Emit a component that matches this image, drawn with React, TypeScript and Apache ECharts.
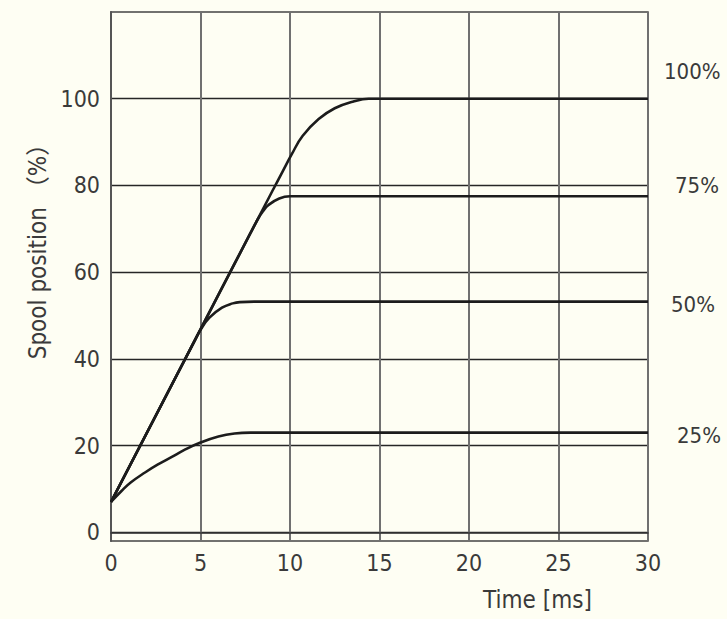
import React, { useEffect, useRef } from "react";
import * as echarts from "echarts";

const xTicks = [0, 5, 10, 15, 20, 25, 30];
const yTickValues = [0, 20, 40, 60, 80, 100];

const seriesNames = ["100%", "75%", "50%", "25%"];

const curve100: [number, number][] = [
  [0, 7], [9, 78.6], [9.6, 83.3], [10.1, 87.2], [10.7, 91.4], [11.6, 95.3], [12.5, 97.8], [13.5, 99.3], [14.4, 100], [30, 100],
];
const curve75: [number, number][] = [
  [0, 7], [7.8, 69.1], [8.2, 72.2], [8.5, 74.1], [8.8, 75.5], [9.4, 77.0], [10, 77.5], [10.4, 77.5], [30, 77.5],
];
const curve50: [number, number][] = [
  [0, 7], [4.7, 44.4], [5, 46.7], [5.5, 49.5], [6.2, 51.8], [6.8, 52.8], [7.2, 53.1], [8, 53.2], [30, 53.2],
];
const curve25: [number, number][] = [
  [0, 7], [0.6, 9.6], [1.1, 11.5], [1.9, 13.8], [2.6, 15.6], [3.4, 17.4], [4.1, 19.0], [5, 20.7], [6, 22.1], [6.9, 22.8], [7.8, 23.0], [30, 23.0],
];

const curves = [curve100, curve75, curve50, curve25];
const labelOffsets: [number, number][] = [[16, -27], [27, -11], [23, 3], [29, 3]];

const NARROW = "'DejaVu Sans Condensed', 'Liberation Sans Narrow', sans-serif";
const TEXT = "#3a3a3a";
const BG = "#fefef3";

export default function App() {
  const ref = useRef<HTMLDivElement>(null);
  useEffect(() => {
    document.body.style.margin = "0";
    document.body.style.background = BG;
    const chart = echarts.init(ref.current!, null, { renderer: "svg" });
    chart.setOption({
      animation: false,
      backgroundColor: BG,
      grid: {
        left: 111,
        right: 79,
        top: 12,
        bottom: 78,
        show: true,
        borderColor: "#444",
        borderWidth: 1.5,
      },
      xAxis: {
        type: "value",
        min: 0,
        max: 30,
        interval: 5,
        name: "Time [ms]",
        nameLocation: "middle",
        nameGap: 47,
        nameTextStyle: {
          fontFamily: NARROW,
          fontSize: 24,
          color: TEXT,
          padding: [0, 0, 0, 316],
        },
        axisLine: { show: true, lineStyle: { color: "#333", width: 1.5 } },
        axisTick: { show: false },
        axisLabel: {
          fontFamily: NARROW,
          fontSize: 23,
          color: TEXT,
          margin: 10,
          formatter: (v: number) => (xTicks.includes(v) ? String(v) : ""),
        },
        splitLine: { show: true, lineStyle: { color: "#707070", width: 2 } },
      },
      yAxis: {
        type: "value",
        min: -2,
        max: 120,
        name: "Spool position （%）",
        nameLocation: "middle",
        nameRotate: 90,
        nameGap: 45,
        nameTextStyle: {
          fontFamily: "'DejaVu Sans Condensed', 'Noto Sans CJK JP', sans-serif",
          fontSize: 24,
          color: TEXT,
          padding: [0, 0, 0, 62],
        },
        axisLine: { show: true, lineStyle: { color: "#555", width: 2 } },
        axisTick: { show: false, customValues: yTickValues },
        axisLabel: {
          customValues: yTickValues,
          fontFamily: NARROW,
          fontSize: 23,
          color: TEXT,
          margin: 11,
        },
        splitLine: { show: true, lineStyle: { color: "#262626", width: 1.4 } },
      },
      series: curves.map((data, i) => ({
        name: seriesNames[i],
        type: "line",
        data,
        smooth: 0.45,
        showSymbol: false,
        symbol: "none",
        lineStyle: { color: "#1c1c1c", width: 2.6 },
        z: 5 - i,
        endLabel: {
          show: true,
          formatter: seriesNames[i],
          fontFamily: NARROW,
          fontSize: 22,
          color: TEXT,
          distance: 0,
          offset: labelOffsets[i],
        },
      })),
    });
    return () => chart.dispose();
  }, []);
  return <div ref={ref} style={{ width: 727, height: 619, background: BG }} />;
}
